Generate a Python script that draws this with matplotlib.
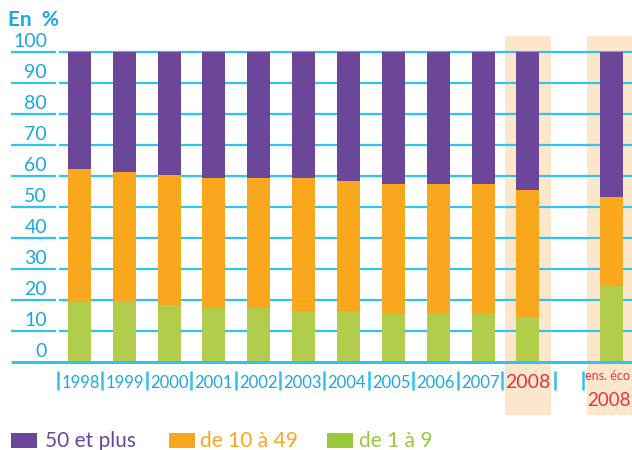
import numpy as np
import matplotlib.pyplot as plt
from matplotlib.patches import Rectangle

plt.rcParams['font.family'] = ['Lato', 'DejaVu Sans']

# Data (percent of employees by company size)
labels = ['1998', '1999', '2000', '2001', '2002', '2003', '2004', '2005',
          '2006', '2007', '2008', 'ens. éco\n2008']
small = np.array([19.5, 19.5, 18.4, 17.4, 17.4, 16.5, 16.5, 15.6, 15.6, 15.6, 14.5, 24.6])   # de 1 à 9
up_to_49 = np.array([62.3, 61.3, 60.3, 59.4, 59.4, 59.4, 58.4, 57.4, 57.4, 57.4, 55.5, 53.2])
medium = up_to_49 - small        # de 10 à 49
large = 100 - up_to_49           # 50 et plus
yticks = [0, 10, 20, 30, 40, 50, 60, 70, 80, 90, 100]

purple = '#6b4699'
orange = '#f9a81e'
green = '#b2cd4c'
cyan = '#2ec4f0'
txt_blue = '#1ea6e0'
red = '#e0344c'
shade = '#fde7cb'

W, H = 632, 450
fig = plt.figure(figsize=(W / 100, H / 100), dpi=100)
ax = fig.add_axes([0, 0, 1, 1])

# pixel -> data helpers (layout only)
x0, dx = 79.4, 44.85
y0, dy = 362, 3.1
def X(px):
    return (px - x0) / dx
def Y(py):
    return (y0 - py) / dy

ax.set_xlim(X(0), X(W))
ax.set_ylim(Y(H), Y(0))
ax.axis('off')

pos = np.append(np.arange(11), X(611.5))

# highlighted columns
for left, right in [(505, 551), (587, 640)]:
    ax.add_patch(Rectangle((X(left), Y(415)), X(right) - X(left), Y(36) - Y(415),
                           color=shade, lw=0, zorder=0))

# gridlines
for v in yticks[1:]:
    ax.hlines(v, X(11), X(56), color=cyan, lw=1.6, zorder=1)
    ax.hlines(v, X(59), X(W), color=cyan, lw=1.6, zorder=1)
    ax.text(X(47), v + 0.7, str(v), ha='right', va='bottom', fontsize=14,
            color=txt_blue, zorder=3)
ax.text(X(47), 0.7, '0', ha='right', va='bottom', fontsize=14, color=txt_blue, zorder=3)
ax.hlines(0, X(11), X(W), color=cyan, lw=2.2, zorder=3)
ax.text(X(8), Y(20), 'En  %', ha='left', va='center', fontsize=15, fontweight='bold',
        color=txt_blue)

# stacked bars
bw = 23 / dx
ax.bar(pos, small, bw, color=green, zorder=2)
ax.bar(pos, medium, bw, bottom=small, color=orange, zorder=2)
ax.bar(pos, large, bw, bottom=up_to_49, color=purple, zorder=2)

# x tick marks and labels
tick_px = [58 + 44.4 * k for k in range(11)] + [555, 583]
for t in tick_px:
    ax.vlines(X(t), Y(390), Y(371), color=cyan, lw=1.8)
for i in range(10):
    ax.text(X(58 + 44.4 * i + 22.5), Y(383), labels[i], ha='center', va='center',
            fontsize=12, color=txt_blue)
ax.text(pos[10], Y(382), labels[10], ha='center', va='center', fontsize=14, color=red)
top, bottom = labels[11].split('\n')
ax.text(X(607.5), Y(376), top, ha='center', va='center', fontsize=9, color=red)
ax.text(X(608.5), Y(400), bottom, ha='center', va='center', fontsize=13.5, color=red)

# legend
legend = [('50 et plus', purple, purple, 11, 45),
          ('de 10 à 49', orange, orange, 169, 200),
          ('de 1 à 9', '#9cc93b', '#99c83c', 327, 359)]
for name, sq, tc, sx, tx in legend:
    ax.add_patch(Rectangle((X(sx), Y(448)), X(sx + 26) - X(sx), Y(433) - Y(448),
                           color=sq, lw=0))
    ax.text(X(tx), Y(441), name, ha='left', va='center', fontsize=15, color=tc)

fig.savefig('out.png', dpi=100)
